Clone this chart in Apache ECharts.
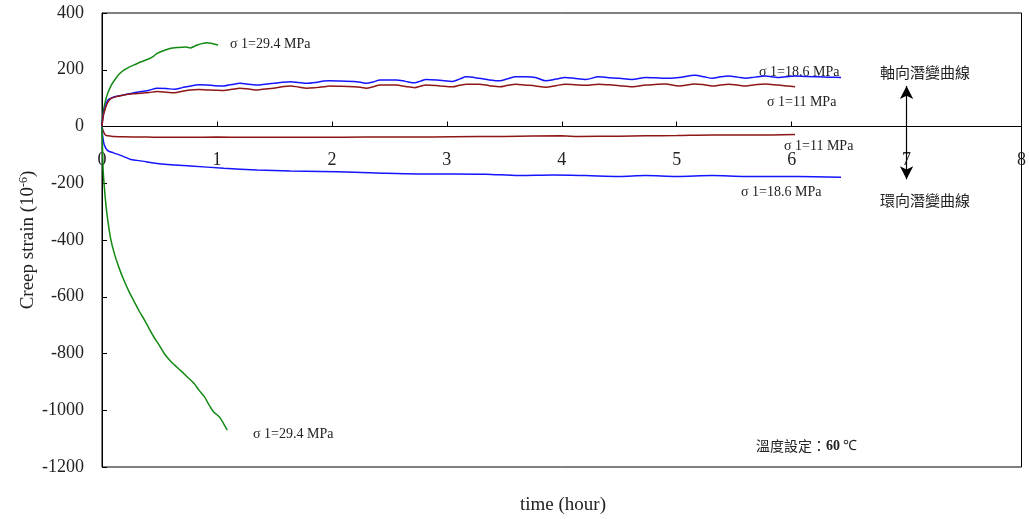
<!DOCTYPE html>
<html>
<head>
<meta charset="utf-8">
<script src="https://cdn.jsdelivr.net/npm/echarts@6/dist/echarts.min.js"></script>
<style>
  html, body { margin: 0; padding: 0; background: #fff; }
  #chart { width: 1029px; height: 519px; }
</style>
</head>
<body>
<div id="chart"></div>
<script>
// Creep strain (10^-6) against time (hour) at 60 °C, axial and hoop strain
const xTicks = [0, 1, 2, 3, 4, 5, 6, 7, 8];
const yTicks = [-1200, -1000, -800, -600, -400, -200, 0, 200, 400];

// Axial creep, σ1 = 29.4 MPa
const axial294 = [
  [0, 0], [0.01, 50], [0.03, 90], [0.05, 117], [0.08, 145], [0.11, 164], [0.15, 185],
  [0.19, 199], [0.24, 210], [0.28, 217], [0.34, 228], [0.40, 237], [0.45, 248],
  [0.48, 258], [0.54, 268], [0.60, 276], [0.65, 278], [0.69, 279], [0.73, 280],
  [0.77, 277], [0.80, 282], [0.83, 287], [0.87, 292], [0.91, 295], [0.95, 293],
  [0.98, 290], [1.01, 287]
];
// Axial creep, σ1 = 18.6 MPa
const axial186 = [
  [0, 0], [0.01, 40], [0.03, 70], [0.05, 93], [0.08, 100], [0.11, 105], [0.19, 111],
  [0.27, 118], [0.34, 123], [0.41, 128], [0.48, 135], [0.56, 134], [0.63, 131],
  [0.70, 137], [0.77, 143], [0.84, 147], [0.91, 146], [0.98, 144], [1.06, 143],
  [1.13, 148], [1.20, 152], [1.28, 149], [1.35, 146], [1.42, 149], [1.49, 152],
  [1.57, 156], [1.64, 158], [1.71, 155], [1.78, 152], [1.86, 155], [1.93, 160],
  [1.98, 161], [2.08, 160], [2.19, 159], [2.25, 156], [2.30, 152], [2.36, 157],
  [2.42, 164], [2.56, 164], [2.64, 159], [2.72, 154], [2.77, 160], [2.82, 166],
  [2.94, 163], [3.05, 159], [3.11, 167], [3.17, 175], [3.28, 170], [3.37, 164],
  [3.46, 161], [3.53, 168], [3.60, 175], [3.68, 175], [3.77, 173], [3.86, 161],
  [3.95, 167], [4.03, 173], [4.12, 169], [4.21, 166], [4.32, 175], [4.41, 172],
  [4.50, 170], [4.61, 166], [4.73, 173], [4.81, 172], [4.90, 170], [5.02, 173],
  [5.16, 181], [5.24, 175], [5.31, 170], [5.38, 175], [5.45, 178], [5.53, 174],
  [5.60, 170], [5.68, 174], [5.77, 178], [5.88, 173], [6.03, 178], [6.13, 176],
  [6.23, 175], [6.33, 174], [6.43, 173]
];
// Axial creep, σ1 = 11 MPa
const axial11 = [
  [0, 0], [0.01, 35], [0.03, 65], [0.05, 85], [0.08, 99], [0.13, 106], [0.19, 111],
  [0.27, 115], [0.34, 117], [0.41, 120], [0.48, 123], [0.56, 121], [0.63, 119],
  [0.70, 124], [0.77, 129], [0.84, 130], [0.91, 129], [0.98, 128], [1.06, 127],
  [1.13, 131], [1.20, 135], [1.28, 132], [1.35, 129], [1.42, 132], [1.49, 135],
  [1.57, 140], [1.64, 143], [1.71, 139], [1.78, 135], [1.86, 137], [1.93, 140],
  [1.98, 143], [2.08, 142], [2.19, 140], [2.25, 138], [2.30, 135], [2.36, 140],
  [2.42, 146], [2.56, 146], [2.64, 141], [2.72, 137], [2.77, 142], [2.82, 146],
  [2.94, 143], [3.05, 140], [3.11, 145], [3.17, 149], [3.28, 149], [3.37, 144],
  [3.46, 140], [3.53, 145], [3.60, 149], [3.68, 146], [3.77, 143], [3.86, 138],
  [3.95, 144], [4.03, 149], [4.12, 147], [4.21, 145], [4.32, 149], [4.41, 147],
  [4.50, 144], [4.61, 140], [4.73, 146], [4.81, 148], [4.90, 150], [5.02, 143],
  [5.16, 150], [5.24, 147], [5.31, 143], [5.38, 146], [5.45, 149], [5.53, 146],
  [5.60, 143], [5.68, 147], [5.77, 150], [5.88, 146], [5.96, 143], [6.03, 140]
];
// Hoop creep, σ1 = 11 MPa
const hoop11 = [
  [0, 0], [0.01, -15], [0.03, -30], [0.08, -34], [0.19, -36], [0.35, -37], [0.48, -38],
  [0.77, -38], [1.0, -37], [1.25, -38], [1.5, -38], [1.9, -38], [2.3, -37], [2.7, -37],
  [3.05, -36], [3.5, -35], [4.0, -33], [4.15, -35], [4.5, -34], [4.73, -33], [5.0, -32],
  [5.31, -30], [5.7, -30], [6.03, -28]
];
// Hoop creep, σ1 = 18.6 MPa
const hoop186 = [
  [0, 0], [0.005, -30], [0.02, -65], [0.05, -85], [0.1, -93], [0.15, -100], [0.2, -108],
  [0.25, -116], [0.35, -122], [0.48, -130], [0.77, -139], [1.06, -147], [1.35, -153],
  [1.64, -157], [1.90, -159], [2.2, -161], [2.47, -165], [2.76, -167], [3.05, -167],
  [3.34, -168], [3.63, -173], [3.92, -171], [4.21, -173], [4.5, -176], [4.73, -173],
  [5.0, -176], [5.31, -173], [5.6, -176], [5.9, -176], [6.2, -177], [6.43, -179]
];
// Hoop creep, σ1 = 29.4 MPa
const hoop294 = [
  [0, 0], [0.005, -80], [0.01, -153], [0.02, -212], [0.035, -280], [0.05, -330],
  [0.075, -395], [0.107, -447], [0.15, -500], [0.19, -541], [0.235, -582], [0.28, -617],
  [0.325, -652], [0.37, -682], [0.41, -712], [0.45, -741], [0.5, -772], [0.54, -799],
  [0.585, -822], [0.63, -840], [0.69, -862], [0.74, -882], [0.8, -905], [0.845, -930],
  [0.89, -952], [0.93, -980], [0.97, -1005], [1.02, -1023], [1.055, -1045], [1.09, -1070]
];

// Double-headed arrow separating axial (up) and hoop (down) curves
const arrowTime = 7;
const arrowSpan = [143, -186];

const serif = '"Liberation Serif", "Times New Roman", serif';
const cjk = '"Noto Sans CJK TC", "Noto Sans CJK SC", sans-serif';
const GREEN = '#128a12';
const BLUE = '#1414ff';
const RED = '#8e1616';

const GRID = { left: 102, right: 2, top: 13, bottom: 52 };
const plotHeight = 519 - GRID.top - GRID.bottom;
// shift the time axis up from the frame's bottom edge to the zero-strain line
const zeroOffset = -plotHeight * (0 - yTicks[0]) / (yTicks[yTicks.length - 1] - yTicks[0]);

function curve(name, data, color) {
  return {
    name, type: 'line', data, showSymbol: false, smooth: 0.3,
    lineStyle: { color, width: 1.5 }, z: 3
  };
}

function label(text, x, y, font, size) {
  return {
    type: 'text', x, y,
    style: { text, fontFamily: font, fontSize: size, fill: '#222', align: 'left', verticalAlign: 'middle' }
  };
}

const chart = echarts.init(document.getElementById('chart'), null, { renderer: 'canvas' });

chart.setOption({
  animation: false,
  backgroundColor: '#fff',
  grid: Object.assign({ show: true, borderColor: '#000', borderWidth: 1 }, GRID),
  xAxis: {
    type: 'value', min: xTicks[0], max: xTicks[xTicks.length - 1], interval: 1,
    position: 'bottom', offset: zeroOffset,
    axisLine: { onZero: false, lineStyle: { color: '#000', width: 1 } },
    axisTick: { inside: true, length: 5, lineStyle: { color: '#000' } },
    axisLabel: { margin: 25, fontFamily: serif, fontSize: 18, color: '#222' },
    splitLine: { show: false }
  },
  yAxis: {
    type: 'value', min: yTicks[0], max: yTicks[yTicks.length - 1], interval: 200,
    axisLine: { show: true, onZero: false, lineStyle: { color: '#000', width: 1 } },
    axisTick: { show: true, inside: true, length: 5, lineStyle: { color: '#000' } },
    axisLabel: { margin: 18, fontFamily: serif, fontSize: 18, color: '#222', formatter: v => String(v) },
    splitLine: { show: false }
  },
  series: [
    curve('axial 29.4', axial294, GREEN),
    curve('axial 18.6', axial186, BLUE),
    curve('axial 11', axial11, RED),
    curve('hoop 11', hoop11, RED),
    curve('hoop 18.6', hoop186, BLUE),
    curve('hoop 29.4', hoop294, GREEN),
    {
      name: 'arrow', type: 'line', data: [], silent: true,
      markLine: {
        silent: true, symbol: ['arrow', 'arrow'], symbolSize: [10, 13],
        label: { show: false },
        lineStyle: { color: '#000', width: 1.2, type: 'solid' },
        data: [[{ coord: [arrowTime, arrowSpan[0]] }, { coord: [arrowTime, arrowSpan[1]] }]]
      }
    }
  ],
  graphic: [
    label('σ 1=29.4 MPa', 230, 44, serif, 14),
    label('σ 1=18.6 MPa', 759, 72, serif, 14),
    label('σ 1=11 MPa', 767, 102, serif, 14),
    label('σ 1=11 MPa', 784, 146, serif, 14),
    label('σ 1=18.6 MPa', 741, 192, serif, 14),
    label('σ 1=29.4 MPa', 253, 434, serif, 14),
    label('軸向潛變曲線', 880, 72, cjk, 15),
    label('環向潛變曲線', 880, 200, cjk, 15),
    {
      type: 'text', x: 756, y: 446,
      style: {
        text: '{a|溫度設定：}{b|60}{c| ℃}',
        verticalAlign: 'middle', align: 'left',
        rich: {
          a: { fontFamily: cjk, fontSize: 14, fill: '#222' },
          b: { fontFamily: serif, fontSize: 14, fontWeight: 'bold', fill: '#222' },
          c: { fontFamily: serif, fontSize: 14, fill: '#222' }
        }
      }
    },
    {
      type: 'text', x: 563, y: 505,
      style: { text: 'time (hour)', fontFamily: serif, fontSize: 19, fill: '#222', align: 'center', verticalAlign: 'middle' }
    },
    {
      type: 'text', x: 28, y: 240, rotation: Math.PI / 2,
      style: {
        text: '{a|Creep strain (10}{b|-6}{a|)}',
        align: 'center', verticalAlign: 'middle',
        rich: {
          a: { fontFamily: serif, fontSize: 19, fill: '#222' },
          b: { fontFamily: serif, fontSize: 12, fill: '#222', padding: [0, 0, 9, 0] }
        }
      }
    }
  ]
});
</script>
</body>
</html>
